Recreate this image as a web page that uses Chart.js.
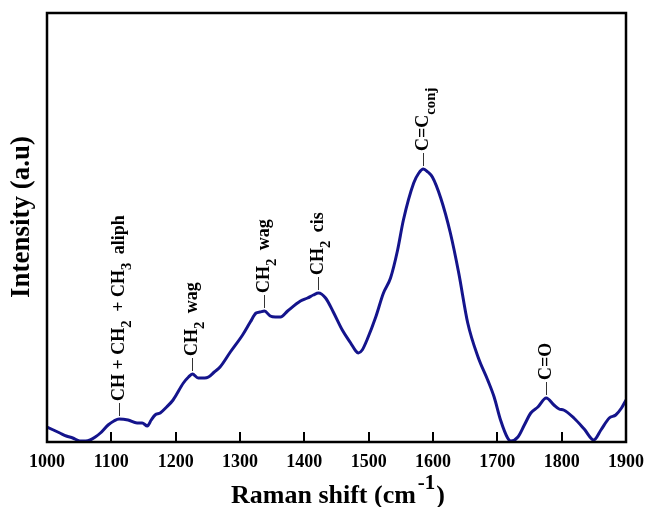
<!DOCTYPE html>
<html><head><meta charset="utf-8">
<script src="https://cdn.jsdelivr.net/npm/chart.js@4"></script>
<style>html,body{margin:0;padding:0;background:#fff}</style>
</head><body>
<canvas id="c" width="645" height="507"></canvas>
<script>
const ramanShift=[1000,1010,1020,1030,1040,1051,1060,1067,1075,1083,1095,1104,1112,1126,1140,1148,1156,1162,1168,1176,1186,1196,1212,1220,1226,1235,1245,1251,1260,1269,1285,1304,1316,1325,1331,1338,1347,1355,1363,1374,1394,1405,1414,1422,1433,1445,1459,1472,1480,1484,1490,1498,1511,1523,1534,1545,1554,1570,1578,1585,1592,1599,1612,1627,1640,1654,1670,1685,1695,1705,1716,1721,1732,1742,1752,1763,1776,1788,1796,1803,1819,1835,1850,1861,1874,1884,1893,1900];
const intensity=[15,12,9,6,4,1,1,2,5,9,17,21,23,22,19,19,16,22,27,29,35,42,59,65,68,64,64,65,70,75,90,107,120,129,130,131,126,125,125,131,141,144,147,149,144,130,112,99,91,89,92,103,125,149,164,192,222,259,269,273,270,265,244,209,169,119,85,62,45,22,4,1,5,17,29,35,44,37,33,32,24,13,2,12,24,27,34,42];
const xTickValues=[1000,1100,1200,1300,1400,1500,1600,1700,1800,1900];
const peakShift=[1112,1226,1338,1422,1585,1776];
const peakLabels=[
  [["CH + CH",0],["2",1],[" + CH",0],["3",1],[" aliph",0]],
  [["CH",0],["2",1],[" wag",0]],
  [["CH",0],["2",1],[" wag",0]],
  [["CH",0],["2",1],[" cis",0]],
  [["C=C",0],["conj",1]],
  [["C=O",0]]
];
const FONT='"Liberation Serif","Times New Roman",serif';

function richRotated(ctx,x,y,segs,size){
  ctx.save();
  ctx.translate(x,y);
  ctx.rotate(-Math.PI/2);
  ctx.textAlign='left';
  ctx.textBaseline='middle';
  ctx.fillStyle='#000';
  let cx=0;
  for(const [t,sub] of segs){
    const s=sub?size*0.82:size;
    ctx.font='bold '+s+'px '+FONT;
    ctx.fillText(t,cx,sub?size*0.4:0);
    cx+=ctx.measureText(t).width+(sub?4:0);
  }
  ctx.restore();
}

const deco={
  id:'deco',
  afterDraw(chart){
    const ctx=chart.ctx, a=chart.chartArea, xs=chart.scales.x, ys=chart.scales.y;
    ctx.save();
    ctx.strokeStyle='#000';ctx.lineWidth=2;
    for(const v of xTickValues){
      const px=Math.round(xs.getPixelForValue(v));
      ctx.beginPath();ctx.moveTo(px,a.bottom);ctx.lineTo(px,a.bottom-10);ctx.stroke();
    }
    ctx.lineWidth=2.5;
    ctx.strokeRect(a.left,a.top,a.right-a.left,a.bottom-a.top);
    ctx.lineWidth=1;ctx.strokeStyle='#333';
    peakShift.forEach((p,i)=>{
      const idx=ramanShift.indexOf(p);
      const px=Math.round(xs.getPixelForValue(p))+0.5;
      const py=ys.getPixelForValue(intensity[idx]);
      ctx.beginPath();ctx.moveTo(px,py-3);ctx.lineTo(px,py-16);ctx.stroke();
      richRotated(ctx,px,py-18,peakLabels[i],18);
    });
    ctx.fillStyle='#000';
    ctx.textBaseline='alphabetic';ctx.textAlign='left';
    const t1='Raman shift (cm';
    ctx.font='bold 26px '+FONT;
    const w1=ctx.measureText(t1).width;
    ctx.font='bold 21px '+FONT;
    const w2=ctx.measureText('-1').width;
    ctx.font='bold 26px '+FONT;
    const w3=ctx.measureText(')').width;
    let sx=(a.left+a.right)/2-(w1+w2+w3)/2;
    ctx.fillText(t1,sx,503);
    ctx.font='bold 21px '+FONT;
    ctx.fillText('-1',sx+w1+2,489);
    ctx.font='bold 26px '+FONT;
    ctx.fillText(')',sx+w1+w2+3,503);
    ctx.save();
    ctx.translate(22,217);
    ctx.rotate(-Math.PI/2);
    ctx.textAlign='center';ctx.textBaseline='middle';
    ctx.font='bold 27px '+FONT;
    ctx.fillText('Intensity (a.u)',0,0);
    ctx.restore();
    ctx.restore();
  }
};

new Chart(document.getElementById('c'),{
  type:'line',
  data:{datasets:[{
    data:ramanShift.map((x,i)=>({x,y:intensity[i]})),
    borderColor:'#14148c',borderWidth:3,pointRadius:0,
    cubicInterpolationMode:'monotone',fill:false
  }]},
  options:{
    responsive:false,animation:false,devicePixelRatio:1,
    layout:{padding:{left:47,right:19,top:13,bottom:0}},
    plugins:{legend:{display:false},tooltip:{enabled:false}},
    scales:{
      x:{type:'linear',min:1000,max:1900,
        grid:{display:false},border:{display:false},
        afterBuildTicks:s=>{s.ticks=xTickValues.map(v=>({value:v}));},
        afterFit:s=>{s.height=65;s.paddingLeft=0;s.paddingRight=0;},
        ticks:{font:{family:FONT,size:18,weight:'bold'},color:'#000',padding:2,maxRotation:0,autoSkip:false,callback:v=>String(v)}
      },
      y:{display:false,min:0,max:429}
    }
  },
  plugins:[deco]
});
</script>
</body></html>
